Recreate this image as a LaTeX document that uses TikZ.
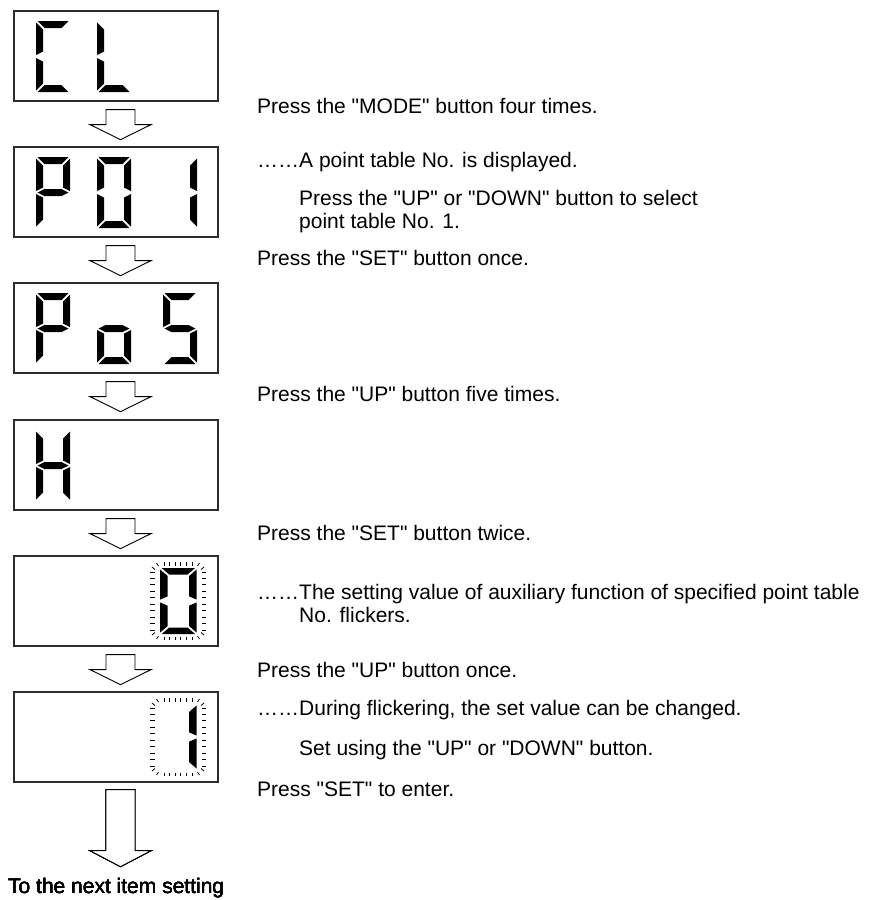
\documentclass[tikz,border=0pt]{standalone}
\usepackage{fontspec}
\setmainfont{Liberation Sans}[Ligatures=TeXOff]
\usetikzlibrary{calc,positioning}
\definecolor{lcdframe}{RGB}{45,45,45}
% seven segment pieces, local units, y pointing down
\newcommand{\segA}{\fill[segfill] (1.5,0) -- (32.5,0) -- (25.5,7) -- (8.5,7) -- cycle;}
\newcommand{\segB}{\fill[segfill] (34,1.5) -- (27,8.5) -- (27,30.5) -- (34,34) -- cycle;}
\newcommand{\segC}{\fill[segfill] (34,37) -- (27,40.5) -- (27,62.5) -- (34,69.5) -- cycle;}
\newcommand{\segD}{\fill[segfill] (1.5,71) -- (32.5,71) -- (25.5,64) -- (8.5,64) -- cycle;}
\newcommand{\segE}{\fill[segfill] (0,37) -- (7,40.5) -- (7,62.5) -- (0,69.5) -- cycle;}
\newcommand{\segF}{\fill[segfill] (0,1.5) -- (7,8.5) -- (7,30.5) -- (0,34) -- cycle;}
\newcommand{\segG}{\fill[segfill] (1.5,35.5) -- (8.5,32) -- (25.5,32) -- (32.5,35.5) -- (25.5,39) -- (8.5,39) -- cycle;}
\newcommand{\lcddigit}[4][]{\begin{scope}[shift={(#2,#3)},#1]#4\end{scope}}
\newcommand{\flickring}[2]{%
  \begin{scope}[shift={(#1,#2)}]
    \foreach \k in {0,...,5} {
      \draw[tick] (14+5.6*\k,0) -- ++(0,3.5);
      \draw[tick] (14+5.6*\k,74.5) -- ++(0,3.5);
    }
    \foreach \k in {0,...,9} {
      \draw[tick] (0,10+6.44*\k) -- ++(4.5,0);
      \draw[tick] (51.5,10+6.44*\k) -- ++(4.5,0);
    }
    \draw[tick] (2,5) -- (5,7.5) (6.5,1) -- (8.5,4);
    \draw[tick] (54,5) -- (51,7.5) (49.5,1) -- (47.5,4);
    \draw[tick] (2,73) -- (5,70.5) (6.5,77) -- (8.5,74);
    \draw[tick] (54,73) -- (51,70.5) (49.5,77) -- (47.5,74);
  \end{scope}}
\newcommand{\stepdown}[3]{%
  \draw[blockarrow] ($(#1)+(-14.5,0)$) -- ++(0,#2) -- ++(-16,0) -- ++(30.5,#3)
    -- ++(30.5,-#3) -- ++(-16,0) -- ++(0,-#2) -- cycle;}
\tikzset{
  lcd/.style={draw=lcdframe,line width=1.3bp,fill=white,minimum width=204bp,
              minimum height=90bp,inner sep=0pt},
  segfill/.style={fill=black},
  tick/.style={draw=black,line width=0.8bp},
  blockarrow/.style={draw=black,line width=0.9bp,fill=white,line join=miter},
  note/.style={anchor=base west,inner sep=0pt,font=\fontsize{21bp}{23bp}\selectfont},
}
\begin{document}
\begin{tikzpicture}[x=1bp,y=-1bp]
  \useasboundingbox (0,0) rectangle (882,900);
  \foreach \i/\yc in {1/56,2/192,3/328,4/465,5/601,6/737}
    \node[lcd] (d\i) at (116,\yc) {};
  % C L
  \lcddigit{36}{21}{\segA\segF\segE\segD}
  \lcddigit{97}{21}{\segF\segE\segD}
  % P 0 1
  \lcddigit{36}{157}{\segA\segB\segF\segG\segE}
  \lcddigit{97}{157}{\segA\segB\segC\segD\segE\segF}
  \lcddigit{163}{157}{\segB\segC}
  % P o S
  \lcddigit{36}{293}{\segA\segB\segF\segG\segE}
  \lcddigit{97}{293}{\segG\segC\segD\segE}
  \lcddigit{163}{293}{\segA\segF\segG\segC\segD}
  % H
  \lcddigit{36}{430}{\segF\segB\segG\segE\segC}
  % flickering digits
  \lcddigit[xscale=1.08,yscale=0.93]{160}{568}{\segA\segB\segC\segD\segE\segF}
  \flickring{150}{562}
  \lcddigit[xscale=1.08,yscale=0.93]{160}{704}{\segB\segC}
  \flickring{150}{698}
  % arrows between the displays
  \foreach \i in {1,...,5}
    \coordinate (a\i) at ($(d\i.south)+(4.5,8)$);
  \coordinate (a6) at ($(d6.south)+(4.5,7)$);
  \foreach \i in {1,...,5}
    \stepdown{a\i}{15}{15}
  \stepdown{a6}{61}{16}
  \node[note] (tnext) at (8,893) {To the next item setting};
  % notes
  \node[note] (t1) at (257,113) {Press the "MODE" button four times.};
  \node[note] (t2) at (257,167) {……A point table No. is displayed.};
  \node[note] (t3a) at (299,205) {Press the "UP" or "DOWN" button to select};
  \node[note] (t3b) at (299,228) {point table No. 1.};
  \node[note] (t4) at (257,265) {Press the "SET" button once.};
  \node[note] (t5) at (257,401) {Press the "UP" button five times.};
  \node[note] (t6) at (257,540) {Press the "SET" button twice.};
  \node[note] (t7a) at (257,599) {……The setting value of auxiliary function of specified point table};
  \node[note] (t7b) at (299,622) {No. flickers.};
  \node[note] (t8) at (257,677) {Press the "UP" button once.};
  \node[note] (t9) at (257,715) {……During flickering, the set value can be changed.};
  \node[note] (t10) at (299,755) {Set using the "UP" or "DOWN" button.};
  \node[note] (t11) at (257,796) {Press "SET" to enter.};
\end{tikzpicture}
\end{document}
